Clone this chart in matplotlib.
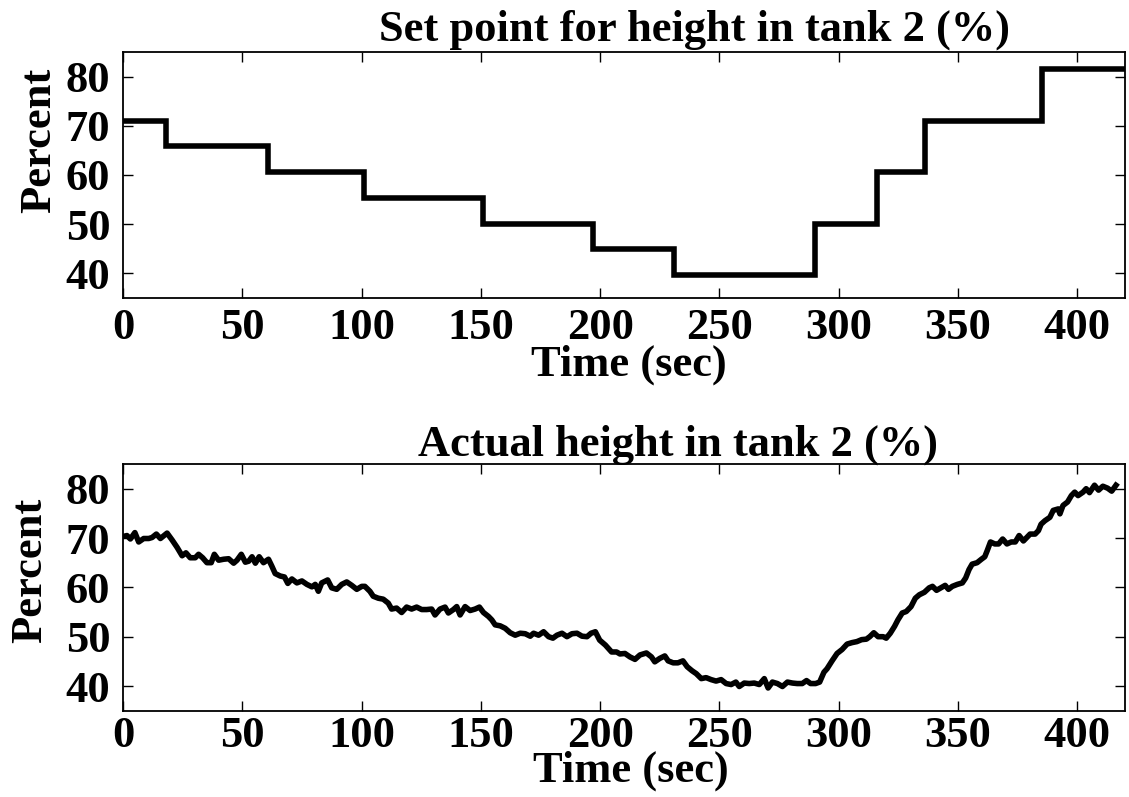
import matplotlib
matplotlib.use("Agg")
import matplotlib.pyplot as plt

# ---------------- data ----------------
setpoint_times = [0, 18, 61, 101, 151, 197, 231, 290, 316, 336, 385, 420]
setpoint_levels = [71.0, 65.8, 60.6, 55.3, 50.0, 45.0, 39.6, 50.0, 60.6, 71.0, 81.6, 81.6]

actual_times = [
    0, 1.7, 3.1, 5, 6.6, 8.7, 10.8, 12.2, 14, 15.7, 18.5, 20.6, 22.7, 24.8, 26.4, 28.2,
    30.3, 31.7, 33.4, 35.2, 37, 38.3, 40.1, 42.2, 44.3, 46.4, 47.8, 49.6, 51.3, 52.7,
    54.1, 55.5, 57.1, 58.9, 61, 62.4, 63.8, 65.9, 67.7, 69.1, 70.8, 72.9, 75, 77.1,
    79.2, 80.6, 81.9, 83.3, 85.8, 87.5, 89.6, 91.7, 93.8, 95.9, 98,
    100.1, 101.4, 103.5, 104.9, 107, 109.1, 111.2, 112.6, 114.7, 116.8, 118.9, 121,
    123.1, 125.2, 127.3, 129.4, 130.8, 132.9, 135, 136.4, 138.5, 139.9, 141.3, 143.4,
    145.5, 147.6, 149.4, 151.1, 153.2, 154.6, 156, 158.1, 160.2, 162.3, 164.4, 166.5,
    168.6, 170.7, 172.1, 174.2, 176.3, 178.4, 180.2, 181.9, 184, 186.1, 188.2, 190.3,
    192.4, 194.5, 196.2, 198, 199.8, 202.2,
    204.8, 206.9, 208.3, 210.4, 212.5, 214.6, 216.7, 219.4, 221.5, 222.9, 225, 227.1,
    228.5, 230.6, 232.6, 234.7, 236.5, 238.5, 240.3, 242.4, 244.4, 246.5, 248.6, 250.7,
    252.8, 254.9, 256.9, 258.3, 260.4, 262.5, 264.6, 266.7, 268.8, 270.4, 272.2, 274.3,
    276.4, 278.5, 280.6, 282.6, 284.7, 286.5, 288.2, 290.3, 292, 293.8, 295.1, 297.2,
    299.3, 301.4, 303.5, 305.6, 307.6,
    309.6, 311.6, 313, 314.7, 316.5, 318.6, 319.9, 321.6, 323.4, 324.8, 326.6, 328.3,
    330.3, 332.1, 333.8, 335.9, 337.9, 339.3, 341, 342.8, 344.6, 346, 347.6, 349.7,
    351.8, 353.2, 354.6, 355.9, 358, 359.8, 361.2, 362.2, 363.6, 365.4, 367, 368.7,
    370.5, 372.3, 374, 375.6, 377.4, 378.8, 380.2, 382.3, 383.7, 384.8, 386.4, 388.5,
    389.9, 392, 392.7, 394, 395.9, 397.5, 398.9, 400.3, 402.4, 403.7, 405.1, 407.2,
    408.9, 410.7, 412.7, 414.4, 416.2,
]
actual_levels = [
    70.3, 70.5, 69.8, 71.1, 69.2, 69.9, 69.9, 70.1, 70.8, 69.9, 71.0, 69.6, 68.1, 66.4, 67.0, 66.0,
    66.0, 66.7, 66.0, 65.0, 65.0, 66.7, 65.5, 65.7, 65.8, 64.9, 65.5, 66.7, 65.1, 65.3,
    66.2, 64.9, 66.2, 65.0, 65.7, 64.3, 62.8, 62.3, 62.1, 60.8, 61.7, 60.9, 61.3, 60.6,
    60.1, 60.6, 59.2, 60.9, 61.5, 59.9, 59.6, 60.6, 61.1, 60.4, 59.6,
    60.2, 60.2, 59.2, 58.2, 57.8, 57.6, 56.8, 55.6, 55.8, 54.9, 56.0, 55.6,
    56.0, 55.5, 55.5, 55.6, 54.4, 55.6, 56.0, 54.8, 55.5, 56.1, 54.4, 56.1,
    55.3, 55.6, 56.0, 54.9, 54.1, 53.4, 52.4, 52.2, 51.7, 50.8, 50.3, 50.7,
    50.6, 50.1, 50.7, 50.3, 51.0, 50.0, 49.7, 50.3, 50.7, 50.0, 50.6, 50.7,
    50.1, 50.0, 50.7, 51.0, 49.3, 48.3,
    46.9, 46.9, 46.5, 46.6, 45.9, 45.4, 46.3, 46.7, 45.9, 44.9, 45.6, 46.1,
    45.1, 44.7, 44.7, 45.1, 43.9, 43.1, 42.5, 41.5, 41.7, 41.3, 41.0, 41.3,
    40.5, 40.3, 40.8, 39.9, 40.6, 40.5, 40.6, 40.3, 41.5, 39.6, 40.8, 40.5,
    39.9, 40.8, 40.6, 40.5, 40.5, 41.1, 40.5, 40.5, 40.8, 42.8, 43.5, 45.1,
    46.6, 47.4, 48.5, 48.8, 49.0,
    49.4, 49.5, 50.0, 50.8, 50.0, 50.0, 49.7, 50.7, 52.1, 53.4, 54.8, 55.1,
    56.1, 57.8, 58.5, 59.0, 59.9, 60.2, 59.4, 59.9, 60.4, 59.6, 60.2, 60.6,
    60.9, 61.9, 63.6, 64.7, 65.0, 65.7, 66.2, 67.4, 69.2, 68.8, 68.8, 69.8,
    68.8, 69.2, 69.2, 70.5, 69.4, 70.1, 70.8, 70.8, 71.5, 72.8, 73.5, 74.2,
    75.6, 75.9, 74.9, 76.6, 77.3, 78.6, 79.3, 78.6, 79.3, 80.0, 79.2, 80.7,
    79.7, 80.5, 80.1, 79.5, 80.7,
]

x_ticks = [0, 50, 100, 150, 200, 250, 300, 350, 400]
y_ticks = [40, 50, 60, 70, 80]

title_top = "Set point for height in tank 2 (%)"
title_bottom = "Actual height in tank 2 (%)"
x_label = "Time (sec)"
y_label = "Percent"

# ---------------- style ----------------
plt.rcParams["font.family"] = ["Liberation Serif", "DejaVu Serif"]
plt.rcParams["font.weight"] = "bold"
FS = 32

fig = plt.figure(figsize=(11.29, 7.97), dpi=100)
ax1 = fig.add_axes([0.1089, 0.6261, 0.8876, 0.3087])
ax2 = fig.add_axes([0.1089, 0.1083, 0.8876, 0.3095])

ax1.step(setpoint_times, setpoint_levels, where="post", color="black", lw=4.0,
         solid_joinstyle="miter")
ax2.plot(actual_times, actual_levels, color="black", lw=4.0)

for ax in (ax1, ax2):
    ax.set_xlim(0, 420)
    ax.set_ylim(35, 85)
    ax.set_xticks(x_ticks)
    ax.set_yticks(y_ticks)
    ax.tick_params(direction="in", top=True, right=True, length=7, width=1.0,
                   labelsize=FS)
    ax.tick_params(axis="y", pad=9)
    for lab in ax.get_xticklabels() + ax.get_yticklabels():
        lab.set_fontweight("bold")
    for s in ax.spines.values():
        s.set_linewidth(1.3)
    ax.set_xlabel(x_label, fontsize=FS, fontweight="bold", va="top")
    ax.set_ylabel(y_label, fontsize=FS, fontweight="bold")

ax1.tick_params(axis="x", pad=7)
ax2.tick_params(axis="x", pad=4)

ax1.set_title(title_top, fontsize=FS, fontweight="bold", x=0.570, y=1.045, pad=0)
ax2.set_title(title_bottom, fontsize=FS, fontweight="bold", x=0.554, y=1.036, pad=0)

ax1.xaxis.set_label_coords(0.505, -0.19)
ax2.xaxis.set_label_coords(0.507, -0.163)
ax1.yaxis.set_label_coords(-0.064, 0.642)
ax2.yaxis.set_label_coords(-0.073, 0.570)

fig.savefig("out.png", dpi=100)
